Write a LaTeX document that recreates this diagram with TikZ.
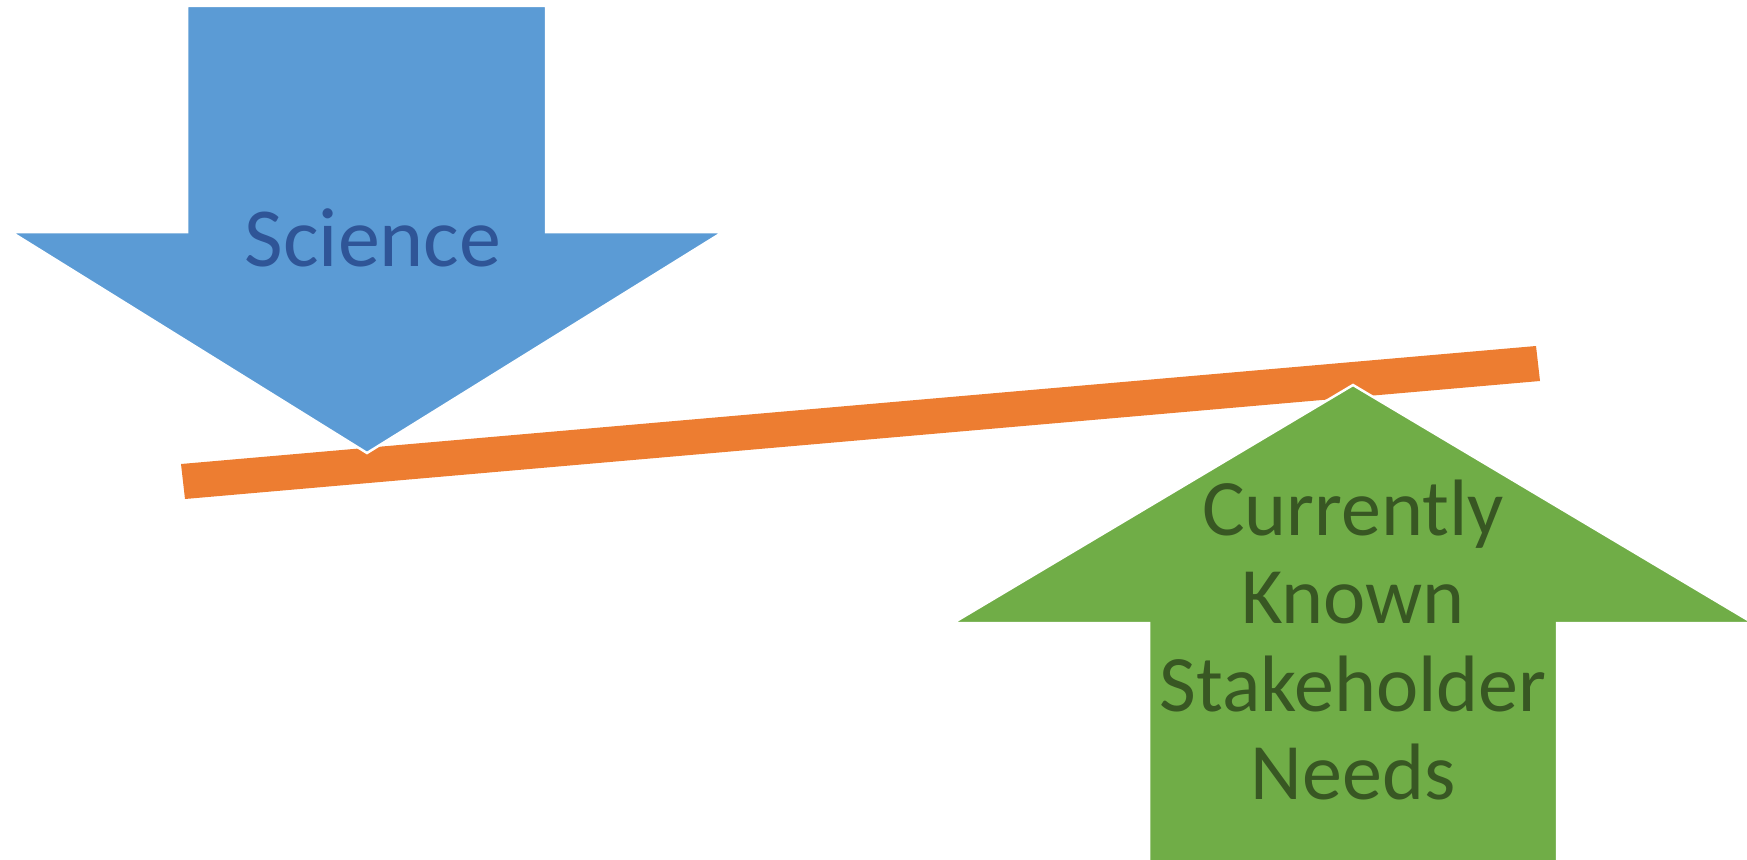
\documentclass[tikz,border=0pt]{standalone}
\usepackage{fontspec}
\setmainfont{Carlito}
\definecolor{sciblue}{HTML}{5B9BD5}
\definecolor{scitext}{HTML}{2F5597}
\definecolor{needgreen}{HTML}{70AD47}
\definecolor{needtext}{HTML}{385723}
\definecolor{beamorange}{HTML}{ED7D31}
\tikzset{
  arrowshape/.style={draw=white, line width=2.5pt, line join=miter},
  labeltext/.style={inner sep=0pt, anchor=base}
}
\begin{document}
\begin{tikzpicture}[x=1pt,y=-1pt]
  \useasboundingbox (0,0) rectangle (1747,859);
  % tilted beam
  \fill[beamorange] (181,464) -- (185,499) -- (1540,381) -- (1536,346) -- cycle;
  % downward arrow
  \filldraw[arrowshape, fill=sciblue]
    (187,6) -- (546,6) -- (546,232) -- (723,232) -- (367,453)
    -- (11,232) -- (187,232) -- cycle;
  % upward arrow
  \filldraw[arrowshape, fill=needgreen]
    (1353,385) -- (1753,623) -- (1557,623) -- (1557,880) -- (1149,880)
    -- (1149,623) -- (953,623) -- cycle;
  \node[labeltext, text=scitext, font=\fontsize{84}{88}\selectfont]
    (science) at (373,266) {Science};
  % multi-line label: the base anchor sits on the last line
  \node[labeltext, text=needtext, align=center, font=\fontsize{80}{88}\selectfont]
    (needs) at (1353,799) {Currently\\Known\\Stakeholder\\Needs};
\end{tikzpicture}
\end{document}
